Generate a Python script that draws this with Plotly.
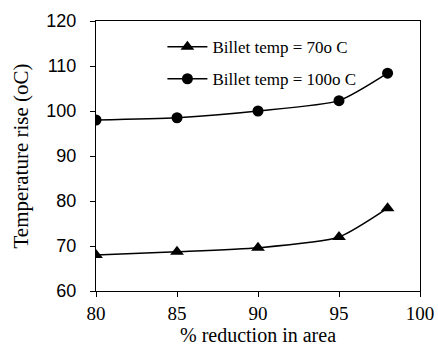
import plotly.graph_objects as go

reduction = [80, 85, 90, 95, 98]
temp_70 = [68.0, 68.7, 69.6, 72.0, 78.4]
temp_100 = [98.0, 98.5, 100.0, 102.3, 108.4]
series_names = ["Billet temp = 70o C", "Billet temp = 100o C"]

fig = go.Figure()
fig.add_trace(go.Scatter(x=reduction, y=temp_70, name=series_names[0], mode="lines+markers",
                         legendgroup="a",
                         line=dict(color="black", width=1.5, shape="spline", smoothing=0.6),
                         marker=dict(symbol="triangle-up", size=12, color="black")))
fig.add_trace(go.Scatter(x=reduction, y=temp_100, name=series_names[1], mode="lines+markers",
                         legendgroup="b",
                         line=dict(color="black", width=1.5, shape="spline", smoothing=0.6),
                         marker=dict(symbol="circle", size=11, color="black")))

fig.update_layout(
    width=438, height=349,
    margin=dict(l=96, r=18, t=21, b=58),
    paper_bgcolor="white", plot_bgcolor="white",
    showlegend=True,
    legend=dict(x=0.205, y=0.97, xanchor="left", yanchor="top", bgcolor="rgba(0,0,0,0)",
                font=dict(family="Liberation Serif", size=17, color="black"),
                tracegroupgap=7, itemwidth=40),
    xaxis=dict(range=[80, 100], tickvals=[80, 85, 90, 95, 100], showline=True, mirror=True,
               linecolor="black", linewidth=1, ticks="outside", ticklen=5, tickcolor="black",
               showgrid=False, zeroline=False, automargin=False,
               tickfont=dict(family="Liberation Serif", size=19, color="black"),
               title=dict(text="% reduction in area", standoff=1,
                          font=dict(family="Liberation Serif", size=20, color="black"))),
    yaxis=dict(range=[60, 120], tickvals=[60, 70, 80, 90, 100, 110, 120], showline=True, mirror=True,
               linecolor="black", linewidth=1, ticks="outside", ticklen=5, tickcolor="black",
               showgrid=False, zeroline=False, ticklabelstandoff=10, automargin=False,
               tickfont=dict(family="Liberation Sans", size=18, color="black"),
               title=dict(text="Temperature rise (oC)", standoff=12,
                          font=dict(family="Liberation Serif", size=21, color="black"))),
)

fig.write_html("out.html", config={"displayModeBar": False},
               post_script="document.body.style.margin='0';document.body.style.overflow='hidden';")
